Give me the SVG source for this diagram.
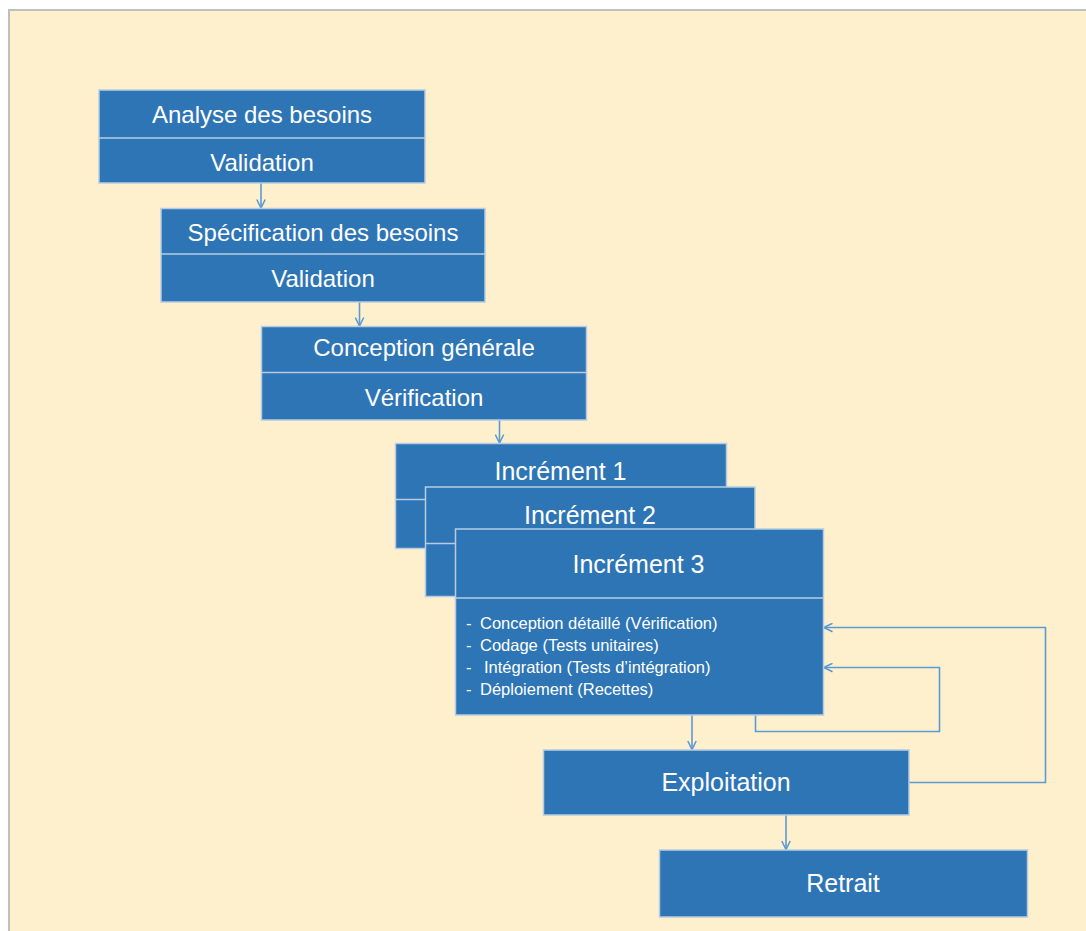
<svg xmlns="http://www.w3.org/2000/svg" width="1086" height="931" viewBox="0 0 1086 931">
  <style>
    .box { fill: #2E75B6; stroke: #B7CCE2; stroke-width: 1.5; }
    .sep { stroke: #B7CCE2; stroke-width: 1.5; fill: none; }
    .t { font-family: "Liberation Sans", Arial, sans-serif; fill: #FFFFFF; text-anchor: middle; }
    .h24 { font-size: 24px; }
    .h25 { font-size: 25px; }
    .li { font-family: "Liberation Sans", Arial, sans-serif; fill: #FFFFFF; font-size: 16.5px; }
    .conn { stroke: #5B9BD5; stroke-width: 1.6; fill: none; }
  </style>
  <defs>
    <marker id="arr" viewBox="0 0 10 10" refX="9.5" refY="5" markerWidth="10" markerHeight="10" markerUnits="userSpaceOnUse" orient="auto">
      <path d="M1,0.8 L9.5,5 L1,9.2" fill="none" stroke="#5B9BD5" stroke-width="1.6"/>
    </marker>
  </defs>

  <!-- page background -->
  <rect x="0" y="0" width="1086" height="931" fill="#FFFFFF"/>
  <rect x="9" y="10" width="1090" height="940" fill="#FFF0CD" stroke="#BFBFBF" stroke-width="2"/>

  <!-- connectors -->
  <g id="connectors">
    <line class="conn" x1="261" y1="183" x2="261" y2="208" marker-end="url(#arr)"/>
    <line class="conn" x1="359.5" y1="302" x2="359.5" y2="326" marker-end="url(#arr)"/>
    <line class="conn" x1="499.5" y1="420" x2="499.5" y2="443" marker-end="url(#arr)"/>
    <line class="conn" x1="692" y1="715" x2="692" y2="749.5" marker-end="url(#arr)"/>
    <line class="conn" x1="786" y1="815" x2="786" y2="849.5" marker-end="url(#arr)"/>
    <polyline class="conn" points="909,782.5 1045.5,782.5 1045.5,627.5 824,627.5" marker-end="url(#arr)"/>
    <polyline class="conn" points="755.5,715 755.5,731.5 939.5,731.5 939.5,667.5 824,667.5" marker-end="url(#arr)"/>
  </g>

  <!-- Analyse des besoins -->
  <g id="analyse">
    <rect class="box" x="99" y="90" width="326" height="93"/>
    <line class="sep" x1="99" y1="138" x2="425" y2="138"/>
    <text class="t h24" x="262" y="123">Analyse des besoins</text>
    <text class="t h24" x="262" y="171">Validation</text>
  </g>

  <!-- Spécification des besoins -->
  <g id="specification">
    <rect class="box" x="161" y="208.5" width="324" height="93.5"/>
    <line class="sep" x1="161" y1="254" x2="485" y2="254"/>
    <text class="t h24" x="323" y="241">Spécification des besoins</text>
    <text class="t h24" x="323" y="287">Validation</text>
  </g>

  <!-- Conception générale -->
  <g id="conception">
    <rect class="box" x="261.5" y="326.5" width="325" height="93.5"/>
    <line class="sep" x1="261.5" y1="372.5" x2="586.5" y2="372.5"/>
    <text class="t h24" x="424" y="356">Conception générale</text>
    <text class="t h24" x="424" y="405.5">Vérification</text>
  </g>

  <!-- Incrément 1 -->
  <g id="increment1">
    <rect class="box" x="395.5" y="443.5" width="331" height="105"/>
    <line class="sep" x1="395.5" y1="499.5" x2="726.5" y2="499.5"/>
    <text class="t h25" x="560.5" y="480">Incrément 1</text>
  </g>

  <!-- Incrément 2 -->
  <g id="increment2">
    <rect class="box" x="425.5" y="487" width="329.5" height="109.5"/>
    <line class="sep" x1="425.5" y1="543.5" x2="755" y2="543.5"/>
    <text class="t h25" x="590" y="524">Incrément 2</text>
  </g>

  <!-- Incrément 3 -->
  <g id="increment3">
    <rect class="box" x="455.5" y="529" width="368" height="186"/>
    <line class="sep" x1="455.5" y1="598" x2="823.5" y2="598"/>
    <text class="t h25" x="638.5" y="572.5">Incrément 3</text>
    <text class="li" x="466" y="628.5">-</text>
    <text class="li" x="480" y="628.5">Conception détaillé (Vérification)</text>
    <text class="li" x="466" y="650.5">-</text>
    <text class="li" x="480" y="650.5">Codage (Tests unitaires)</text>
    <text class="li" x="466" y="672.5">-</text>
    <text class="li" x="484" y="672.5">Intégration (Tests d’intégration)</text>
    <text class="li" x="466" y="694.5">-</text>
    <text class="li" x="480" y="694.5">Déploiement (Recettes)</text>
  </g>

  <!-- Exploitation -->
  <g id="exploitation">
    <rect class="box" x="543.5" y="750" width="365.5" height="65"/>
    <text class="t h25" x="726" y="790.5">Exploitation</text>
  </g>

  <!-- Retrait -->
  <g id="retrait">
    <rect class="box" x="659.5" y="850" width="368" height="67"/>
    <text class="t h25" x="843" y="891.5">Retrait</text>
  </g>
</svg>
